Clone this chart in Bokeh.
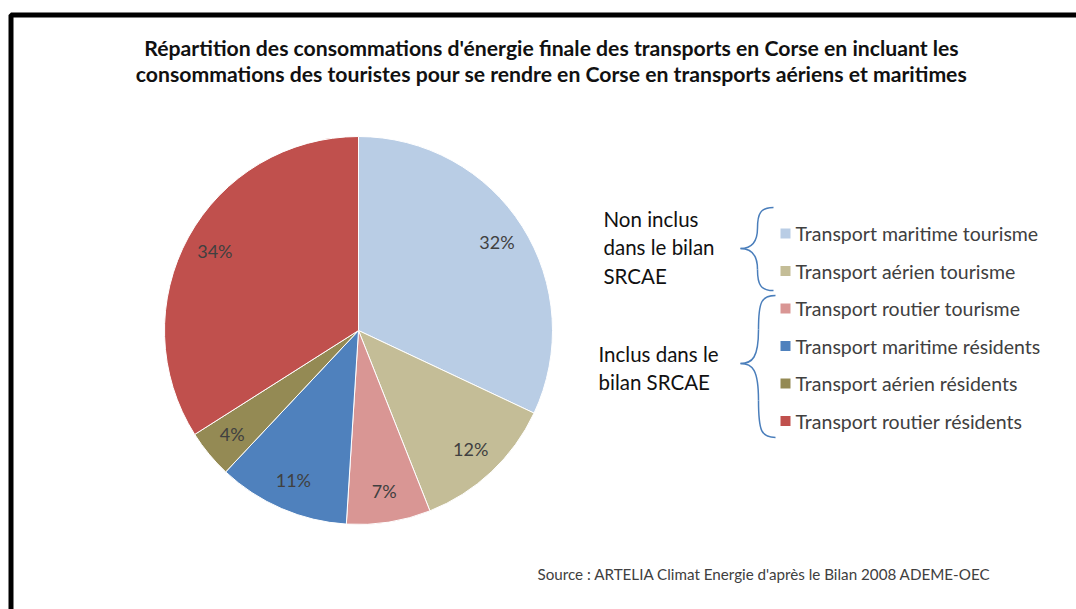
import math
from bokeh.plotting import figure
from bokeh.models import Range1d
from bokeh.core.properties import value
from bokeh.embed import file_html
from bokeh.resources import INLINE

# ---- data ----
categories = [
    "Transport maritime tourisme",
    "Transport aérien tourisme",
    "Transport routier tourisme",
    "Transport maritime résidents",
    "Transport aérien résidents",
    "Transport routier résidents",
]
shares = [32, 12, 7, 11, 4, 34]
colors = ["#B9CDE5", "#C4BD97", "#D99694", "#4F81BD", "#948A54", "#C0504D"]
title_lines = [
    "Répartition des consommations d'énergie finale des transports en Corse en incluant les",
    "consommations des touristes pour se rendre en Corse en transports aériens et maritimes",
]
group_non = ["Non inclus", "dans le bilan", "SRCAE"]
group_in = ["Inclus dans le", "bilan SRCAE"]
source = "Source : ARTELIA Climat Energie d'après le Bilan 2008 ADEME-OEC"

FONT = "Lato"
W, H = 1076, 609

p = figure(width=W, height=H, output_backend="svg", toolbar_location=None,
           x_range=Range1d(0, W), y_range=Range1d(-H, 0),
           min_border=0, outline_line_color=None)
p.axis.visible = False
p.grid.visible = False
p.background_fill_color = "white"
p.border_fill_color = "white"

def Y(y):
    return -y

# frame (top and left edges of the chart border)
p.line([1090, 10.5, 10.5], [Y(14.5), Y(14.5), Y(630)], line_color="black", line_width=5)

# ---- title ----
p.text(x=[551, 551], y=[Y(47), Y(73)], text=title_lines, text_align="center",
       text_baseline="middle", text_font=value(FONT), text_font_style="bold",
       text_font_size="21.2px", text_color="#111111")

# ---- pie ----
cx, cy, R = 358, 330, 194
total = float(sum(shares))
cum = 0.0
starts, ends, lx, ly, labs = [], [], [], [], []
for s in shares:
    c0 = cum / total
    c1 = (cum + s) / total
    cum += s
    starts.append(math.pi / 2 - 2 * math.pi * c1)
    ends.append(math.pi / 2 - 2 * math.pi * c0)
    mid = 2 * math.pi * (c0 + c1) / 2
    lx.append(cx + 0.845 * R * math.sin(mid))
    ly.append(Y(cy) + 0.845 * R * math.cos(mid) + 1)
    labs.append(f"{s}%")

p.wedge(x=cx, y=Y(cy), radius=R, start_angle=starts, end_angle=ends,
        fill_color=colors, line_color="white", line_width=1)
p.text(x=lx, y=ly, text=labs, text_align="center", text_baseline="middle",
       text_font=value(FONT), text_font_size="18px", text_color="#404040")

# ---- legend ----
leg_x, leg_y0, leg_dy = 785, 233, 37.5
ys = [Y(leg_y0 + i * leg_dy) for i in range(len(categories))]
p.scatter(x=[leg_x] * len(categories), y=ys, marker="square", size=10,
          fill_color=colors, line_color=None)
p.text(x=[leg_x + 10] * len(categories), y=ys, text=categories, text_align="left",
       text_baseline="middle", text_font=value(FONT), text_font_size="19.5px",
       text_color="#404040")

# ---- braces ----
def brace(xr, xb, xt, yt, ym, yb):
    k1 = yt + (ym - yt) * 0.5
    p.bezier(x0=xr, y0=Y(yt), x1=xb, y1=Y(k1), cx0=xb + 3, cy0=Y(yt), cx1=xb, cy1=Y(yt + 6),
             line_color="#4A7EBB", line_width=1.5)
    p.bezier(x0=xb, y0=Y(k1), x1=xt, y1=Y(ym), cx0=xb, cy0=Y(ym - 6), cx1=xb - 6, cy1=Y(ym),
             line_color="#4A7EBB", line_width=1.5)
    k2 = ym + (yb - ym) * 0.5
    p.bezier(x0=xt, y0=Y(ym), x1=xb, y1=Y(k2), cx0=xb - 6, cy0=Y(ym), cx1=xb, cy1=Y(ym + 6),
             line_color="#4A7EBB", line_width=1.5)
    p.bezier(x0=xb, y0=Y(k2), x1=xr, y1=Y(yb), cx0=xb, cy0=Y(yb - 6), cx1=xb + 3, cy1=Y(yb),
             line_color="#4A7EBB", line_width=1.5)

brace(773, 757, 740, 207, 248, 290)
brace(775, 758, 740, 295, 363, 437)

# ---- group labels ----
p.text(x=[603] * len(group_non), y=[Y(218 + i * 28.5) for i in range(len(group_non))],
       text=group_non, text_align="left", text_baseline="middle",
       text_font=value(FONT), text_font_size="20.5px", text_color="#111111")
p.text(x=[598] * len(group_in), y=[Y(353 + i * 28.5) for i in range(len(group_in))],
       text=group_in, text_align="left", text_baseline="middle",
       text_font=value(FONT), text_font_size="20.5px", text_color="#111111")

# ---- source ----
p.text(x=[537], y=[Y(573)], text=[source], text_align="left", text_baseline="middle",
       text_font=value(FONT), text_font_size="15.2px", text_color="#404040")

open("out.html", "w").write(file_html(p, INLINE))
